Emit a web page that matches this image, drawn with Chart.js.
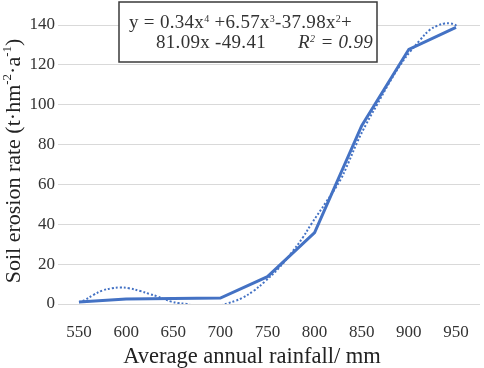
<!DOCTYPE html>
<html><head><meta charset="utf-8">
<script src="https://cdn.jsdelivr.net/npm/chart.js@4/dist/chart.umd.min.js"></script>
<style>
html,body{margin:0;padding:0;background:#fff;}
#wrap{position:relative;width:484px;height:368px;}
</style></head><body>
<div id="wrap"><canvas id="c" width="484" height="368"></canvas></div>
<script>
// ---- data ----
const categories = [550, 600, 650, 700, 750, 800, 850, 900, 950];
const erosion    = [1, 2.5, 2.8, 3, 13.7, 35.8, 89.5, 127.8, 138.8];
const trendX = [550, 556, 565, 575, 585, 593, 603, 615, 625, 633, 641, 648, 655, 663, 672, 685, 695, 703, 708, 716, 723, 735, 747, 762, 776, 787, 797, 812, 827, 836, 845, 855, 866, 878, 891, 902, 912, 922, 931, 938, 944, 948, 951];
const trendY = [0.8, 2, 4.5, 6.8, 7.9, 8.3, 7.9, 6.5, 5, 3.8, 2.3, 1.2, 0.5, 0.1, -0.8, -1.5, -1.3, -0.3, 0.4, 1.6, 3, 6.5, 11.2, 18, 26, 33, 40.5, 51, 62, 71, 81, 90.5, 99.8, 110, 120, 127, 132.5, 137.5, 139.8, 140.8, 140.8, 140.3, 139.5];
const yTicks = [0, 20, 40, 60, 80, 100, 120, 140];
const xTitle = 'Average annual rainfall/ mm';
const yTitleParts = [['Soil erosion rate (t·hm', false], ['-2', true], ['·a', false], ['-1', true], [')', false]];
const eqLine1 = [['y = 0.34x', false], ['4', true], [' +6.57x', false], ['3', true], ['-37.98x', false], ['2', true], ['+', false]];
const eqLine2 = '81.09x -49.41';
const eqR2 = [['R', false], ['2', true], [' = 0.99', false]];

const BLUE = '#4472C4';
const SERIF = '"Liberation Serif", "Times New Roman", serif';

function richWidth(ctx, parts, size, supSize, italic) {
  let w = 0;
  for (const [t, sup] of parts) {
    ctx.font = (italic ? 'italic ' : '') + (sup ? supSize : size) + 'px ' + SERIF;
    w += ctx.measureText(t).width;
  }
  return w;
}
function drawRich(ctx, x, y, parts, size, supSize, raise, italic) {
  ctx.textBaseline = 'alphabetic';
  ctx.textAlign = 'left';
  for (const [t, sup] of parts) {
    ctx.font = (italic ? 'italic ' : '') + (sup ? supSize : size) + 'px ' + SERIF;
    ctx.fillText(t, x, sup ? y - raise : y);
    x += ctx.measureText(t).width;
  }
}

const annot = {
  id: 'annot',
  afterDraw(chart) {
    const ctx = chart.ctx;
    ctx.save();
    // y title
    ctx.fillStyle = '#222';
    const w = richWidth(ctx, yTitleParts, 22, 13, false);
    ctx.translate(20, 161);
    ctx.rotate(-Math.PI / 2);
    drawRich(ctx, -w / 2, 0, yTitleParts, 22, 13, 9, false);
    ctx.restore();

    // x title
    ctx.save();
    ctx.fillStyle = '#222';
    ctx.font = '22.5px ' + SERIF;
    ctx.textAlign = 'center';
    ctx.textBaseline = 'alphabetic';
    ctx.fillText(xTitle, 252, 363);
    ctx.restore();

    // equation box
    ctx.save();
    ctx.letterSpacing = '0.3px';
    ctx.fillStyle = '#fff';
    ctx.fillRect(119, 2, 258, 60);
    ctx.strokeStyle = '#3a3a3a';
    ctx.lineWidth = 1.5;
    ctx.strokeRect(119, 2, 258, 60);
    ctx.fillStyle = '#333';
    drawRich(ctx, 129, 28, eqLine1, 19, 10, 6, false);
    ctx.font = '19px ' + SERIF;
    ctx.fillText(eqLine2, 156, 47.5);
    const rw = richWidth(ctx, eqR2, 19, 10, true);
    drawRich(ctx, 373 - rw, 47.5, eqR2, 19, 10, 6, true);
    ctx.restore();
  }
};

new Chart(document.getElementById('c'), {
  type: 'line',
  data: {
    datasets: [
      {
        label: 'erosion',
        data: categories.map((x, i) => ({x, y: erosion[i]})),
        borderColor: BLUE,
        borderWidth: 3,
        pointRadius: 0,
        tension: 0,
        fill: false
      },
      {
        label: 'trend',
        data: trendX.map((x, i) => ({x, y: trendY[i]})),
        borderColor: BLUE,
        borderWidth: 2,
        borderDash: [2, 2],
        pointRadius: 0,
        tension: 0.4,
        fill: false,
        clip: {left: 2, top: 4, right: 2, bottom: 0}
      }
    ]
  },
  options: {
    responsive: false,
    animation: false,
    layout: {padding: {top: 25, right: 4, left: 0, bottom: 0}},
    plugins: {legend: {display: false}, tooltip: {enabled: false}},
    scales: {
      x: {
        type: 'linear',
        min: 527.7,
        max: 975.5,
        afterBuildTicks: s => { s.ticks = categories.map(v => ({value: v})); },
        afterFit: s => { s.height = 64; },
        grid: {display: false},
        border: {display: false},
        ticks: {
          padding: 10,
          color: '#333',
          font: {family: SERIF, size: 17},
          maxRotation: 0,
          autoSkip: false
        },
        title: {display: false}
      },
      y: {
        min: 0,
        max: 140,
        afterBuildTicks: s => { s.ticks = yTicks.map(v => ({value: v})); },
        afterFit: s => { s.width = 58; },
        grid: {color: '#d9d9d9', lineWidth: 1, drawTicks: false},
        border: {display: false},
        ticks: {
          padding: 3,
          color: '#333',
          font: {family: SERIF, size: 17}
        },
        title: {display: false}
      }
    }
  },
  plugins: [annot]
});
</script>
</body></html>
